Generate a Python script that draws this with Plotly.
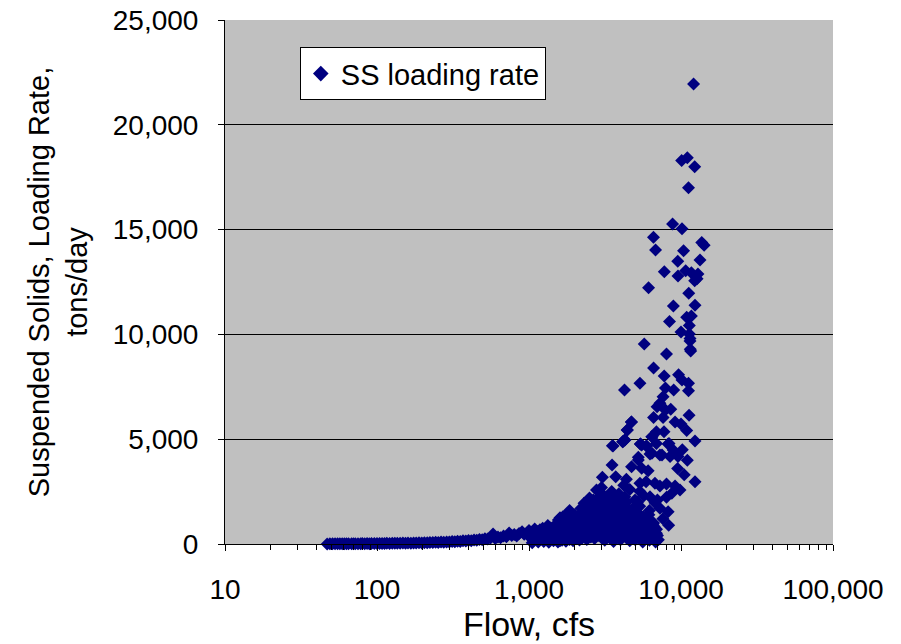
import plotly.graph_objects as go

# Low-flow band (cfs, tons/day)
low_flow = [47, 49, 51, 53, 55, 57, 59, 61, 63, 65, 68, 70, 72, 75, 78, 80, 83, 86, 89, 92, 96,
            100, 104, 108, 112, 116, 121, 126, 131, 136, 142, 148, 154, 160, 167, 174, 181, 189,
            197, 205, 214, 223, 233, 243, 253, 264, 275, 287, 299, 312, 325, 339, 353, 368, 384,
            400, 417, 435, 453, 472, 492, 513, 535, 558, 580, 600, 625, 650, 680, 710, 740, 770,
            800, 830, 860, 900, 930, 970, 1000, 1040, 1090, 1130, 1180, 1230, 1280, 1330, 1390,
            1450, 1510, 1560, 1600, 1670]
low_load = [5, 8, 6, 10, 7, 9, 12, 8, 11, 14, 10, 13, 16, 12, 15, 18, 14, 20, 17, 22, 18,
            25, 21, 28, 24, 30, 27, 34, 30, 38, 33, 42, 37, 46, 40, 52, 47, 58,
            52, 64, 60, 72, 66, 80, 75, 90, 85, 100, 95, 115, 105, 130, 120, 150, 140,
            170, 160, 190, 180, 220, 200, 250, 240, 290, 480, 260, 330, 300, 380, 340, 520, 400,
            450, 380, 500, 580, 460, 520, 650, 560, 720, 600, 680, 750, 640, 880, 760,
            820, 900, 1150, 1250, 1300]

# Near-zero loads at higher flows
base_flow = [1050, 1150, 1250, 1350, 1450, 1550, 1650, 1750, 1850, 1950, 2050, 2150, 2250, 2400,
             2550, 2700, 2850, 3000, 3150, 3300, 3450, 3600, 3800, 4000, 4200, 4400, 4600, 4800,
             5000, 5300, 5600, 5900, 6200, 6500, 6800, 6250, 6890, 7100, 1100, 1300, 1500, 1700,
             1900, 2100, 2300, 2500, 2750, 3050, 3350, 3700, 4100, 4500, 4900, 5450, 6000, 6600]
base_load = [60, 90, 120, 80, 150, 100, 180, 130, 220, 160, 250, 190, 300, 220,
             350, 260, 400, 300, 180, 420, 250, 120, 380, 200, 450, 280, 150, 350,
             200, 420, 100, 300, 180, 380, 90, 590, 510, 200, 300, 450, 550, 650,
             500, 700, 600, 800, 650, 750, 900, 700, 850, 600, 750, 650, 500, 420]

# Main cluster
mid_flow = [1700, 1800, 1900, 2000, 2100, 2200, 2300, 2350, 2450, 2550, 2630, 2700, 2780, 2850,
            2950, 3040, 3080, 3150, 3250, 3350, 3450, 3520, 3540, 3570, 3600, 3720, 3780, 3850,
            3940, 4000, 4140, 4270, 4270, 4370, 4370, 4430, 4500, 4600, 4720, 4730, 4800, 4980,
            5120, 5240, 5370, 5410, 5510, 5510, 5640, 5800, 5890, 5930, 6080, 6250, 6440, 6440,
            6740, 6740, 7270, 7270, 8030, 9140, 9850, 12360, 5370, 6250, 7000, 8030, 8700, 8230,
            5240, 6250, 7270, 10500, 11000, 10200, 9500, 2000, 2400, 2900, 3300, 3900, 4300,
            4700, 5200, 5700, 6200, 2200, 2600, 3100, 3500, 4050, 4600, 5100, 5600, 6100, 6700,
            7600, 8300, 2500, 3000, 3500, 4200, 1850, 2150, 2650, 3250]
mid_load = [500, 700, 900, 600, 1100, 800, 1940, 1300, 1000, 1500, 1620, 700, 2580, 1200,
            900, 3180, 2340, 1800, 1460, 1100, 600, 3770, 4690, 4680, 2000, 3210, 2130, 1400,
            1700, 900, 4880, 4960, 2260, 3090, 1540, 5440, 1100, 2600, 5820, 3690, 700, 2100,
            1700, 4140, 2900, 4770, 4720, 3610, 1300, 800, 2970, 4680, 3500, 1150, 4330, 5120,
            2900, 1970, 2770, 1700, 2860, 2770, 2580, 2970, 2500, 2260, 2100, 2230, 2420, 1540,
            4010, 4290, 4250, 3300, 4000, 4500, 3600, 1300, 1600, 1900, 2100, 2400, 1800,
            1400, 2000, 2300, 1600, 900, 1000, 1200, 1500, 1100, 1300, 1500, 900, 1000, 800,
            1200, 900, 2200, 2700, 2500, 2800, 1100, 1400, 1800, 2200]

# Extra points filling the dense lower cluster
extra_flow = [1020, 1080, 1120, 1200, 1260, 1320, 1400, 1480, 1540, 1620,
              1720, 1780, 1880, 1980, 2080, 2180, 2280, 2380, 2480, 2600,
              2720, 2820, 2920, 3020, 3120, 3220, 3380, 3480, 3580, 3680,
              3820, 3920, 4060, 4180, 4320, 4460, 4560, 4660, 4860, 5040,
              5160, 5340, 5500, 5700, 5860, 6040, 6360, 6560, 6700,
              1600, 1750, 1950, 2150, 2350, 2550, 2800, 3100, 3400, 3750,
              4150, 4550, 5050, 5550, 6050,
              1650, 1700, 1800, 1850, 1950, 2000, 2100, 2200, 2250, 2350,
              2450, 2500, 2600, 2650, 2750, 2900, 2950, 3050, 3150, 3250,
              3350, 3450, 3550, 3650, 3800, 3900, 4000, 4250, 4400, 4650,
              4900, 5150, 5350, 5650, 5900, 6150, 6350, 6600, 6900, 7000]
extra_load = [300, 400, 200, 500, 350, 600, 450, 700, 300, 800,
              400, 1000, 600, 1200, 500, 1300, 900, 1500, 700, 1100,
              1800, 900, 2000, 1200, 700, 1600, 1000, 1900, 800, 1200,
              900, 1500, 1900, 1000, 1800, 500, 1300, 900, 1700, 1100,
              600, 1400, 900, 500, 1200, 700, 300, 900, 600,
              150, 200, 300, 250, 400, 350, 500, 450, 550, 500,
              600, 400, 450, 350, 300,
              900, 1300, 1100, 1600, 800, 1400, 1000, 1700, 1200, 900,
              1800, 1300, 1600, 2100, 1000, 1400, 2300, 1700, 1000, 2100,
              1500, 1100, 2400, 1700, 1200, 2200, 1600, 1300, 2000, 1200,
              1500, 1000, 1800, 1100, 800, 1400, 800, 1000, 700, 400]

# High loads
high_flow = [12100, 10100, 11000, 12300, 11200, 8800, 10150, 6590, 13700, 14200, 6800, 10400, 9520,
             13340, 7770, 9560, 10740, 11700, 12930, 12300, 12760, 6120, 11250, 8910, 12360, 8400,
             10900, 11700, 11340, 10000, 11340, 11460, 5730, 11500, 11460, 11580, 8030, 6600, 7750,
             9640, 10150, 11200, 11200, 5370, 4250, 7900, 8950, 7620, 7270, 6960, 7900, 8560, 6600,
             7620, 4720, 9140, 10000, 11300, 4430, 10900, 6890, 7730, 6440, 12360, 4270, 5410, 6890,
             8230, 4140, 5930, 8340, 8880, 7500, 8470, 9560]
high_load = [21950, 18300, 18430, 18000, 17000, 15270, 15040, 14630, 14380, 14250, 14030, 13990,
             13490, 13550, 12990, 12790, 13040, 12940, 12880, 12560, 12660, 12230, 11960, 11360,
             11390, 10620, 10820, 10880, 10430, 10110, 10020, 9810, 9540, 9290, 9690, 9210, 9070,
             8400, 8020, 8080, 7830, 7670, 7310, 7670, 7350, 7440, 7350, 7030, 6710, 6550, 6390,
             6430, 6040, 6040, 5820, 5820, 5730, 6140, 5440, 5410, 5360, 5360, 5120, 4910, 4960,
             4770, 4800, 4770, 4880, 4680, 4800, 4480, 4250, 4170, 4170]

for a, b in [(low_flow, low_load), (base_flow, base_load), (mid_flow, mid_load),
             (extra_flow, extra_load), (high_flow, high_load)]:
    assert len(a) == len(b), (len(a), len(b))

flow = low_flow + base_flow + mid_flow + extra_flow + high_flow
load = low_load + base_load + mid_load + extra_load + high_load

x_tickvals = [10, 100, 1000, 10000, 100000]
x_ticktext = ["10", "100", "1,000", "10,000", "100,000"]
x_minor_tickvals = [m * d for d in (10, 100, 1000, 10000) for m in range(2, 10)]
y_tickvals = [0, 5000, 10000, 15000, 20000, 25000]

FONT = "Liberation Sans, Arial, sans-serif"
FS = 28

fig = go.Figure()
fig.add_trace(go.Scatter(
    x=flow, y=load, mode="markers", name="SS loading rate", cliponaxis=False,
    marker=dict(symbol="diamond", size=10, color="#000080", line=dict(width=0)),
))

fig.update_layout(
    width=901, height=644,
    margin=dict(l=225, r=68, t=20, b=100),
    paper_bgcolor="white", plot_bgcolor="#C0C0C0",
    font=dict(family=FONT, size=FS, color="black"),
    showlegend=True,
    legend=dict(x=0.123, y=0.948, xanchor="left", yanchor="top",
                bgcolor="white", bordercolor="black", borderwidth=1,
                font=dict(size=29), itemsizing="constant", itemwidth=30),
    xaxis=dict(type="log", range=[1, 5], tickvals=x_tickvals, ticktext=x_ticktext,
               showgrid=False, zeroline=False, showline=True, linecolor="black",
               ticks="outside", ticklen=6, tickcolor="black", automargin=False,
               ticklabelstandoff=14,
               minor=dict(tickmode="array", tickvals=x_minor_tickvals, ticks="outside",
                          ticklen=5, tickcolor="black", showgrid=False),
               title=dict(text="Flow, cfs", standoff=6,
                          font=dict(family=FONT, size=34, color="black"))),
    yaxis=dict(range=[0, 25000], tickvals=y_tickvals, tickformat=",d",
               showgrid=True, gridcolor="black", gridwidth=1, zeroline=False, automargin=False,
               showline=True, linecolor="black", ticks="outside", ticklen=6, tickcolor="black",
               ticklabelstandoff=14,
               title=dict(text="Suspended Solids, Loading Rate,<br>tons/day", standoff=16,
                          font=dict(family=FONT, size=29, color="black"))),
)

fig.write_html("out.html")
